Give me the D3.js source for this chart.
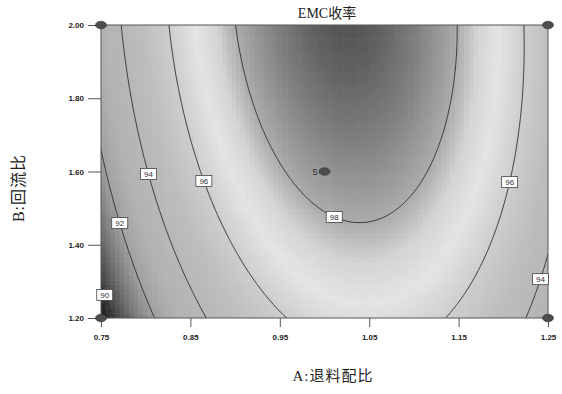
<!DOCTYPE html>
<html>
<head>
<meta charset="utf-8">
<script src="https://cdn.jsdelivr.net/npm/d3@7"></script>
<style>
  html, body { margin: 0; padding: 0; background: #fff; }
  svg { display: block; }
  .tick-label { font-family: Arial, "Liberation Sans", sans-serif; font-size: 8px; font-weight: bold; fill: #222; }
  .axis-title { font-family: "Liberation Serif", "Noto Sans CJK SC", serif; fill: #222; }
</style>
</head>
<body>
<svg id="chart" width="562" height="394"></svg>
<script>
// Factor ranges (actual units)
const factorA = [0.75, 1.25];   // A: 退料配比
const factorB = [1.20, 2.00];   // B: 回流比

// Axis tick values
const ticksA = [0.75, 0.85, 0.95, 1.05, 1.15, 1.25];
const ticksB = [1.20, 1.40, 1.60, 1.80, 2.00];

// Fitted quadratic model in coded units (a, b in [-1, 1]):
// Y = c0 + cA*a + cB*b + cAB*a*b + cAA*a^2 + cBB*b^2
const modelTerms = ["c0", "cA", "cB", "cAB", "cAA", "cBB"];
const modelCoefs = [98.42, 1.477, 1.375, -0.458, -5.20, -0.567];

// Contour levels and where each label sits (level, B value, branch)
const contourLevels = [90, 92, 94, 96, 98];
const labelLevels   = [90, 92, 94, 96, 98, 96, 94];
const labelB        = [1.263, 1.459, 1.593, 1.574, 1.476, 1.571, 1.306];
const labelBranch   = ["left", "left", "left", "left", "left", "right", "right"];

// Design points (A, B) and replicate count
const designA    = [0.75, 0.75, 1.25, 1.25, 1.00];
const designB    = [1.20, 2.00, 2.00, 1.20, 1.60];
const designReps = [1, 1, 1, 1, 5];

// Gray shading keyed to response value
const shadeValues = [89.3, 90, 91, 92, 93, 94, 95, 96, 96.9, 97.5, 98, 98.5, 99.0, 99.3];
const shadeGrays  = [20, 60, 115, 160, 178, 183, 190, 205, 228, 212, 172, 145, 112, 84];

const coef = Object.fromEntries(modelTerms.map((t, i) => [t, modelCoefs[i]]));
const codeA = A => (A - 1.0) / 0.25;
const codeB = B => (B - 1.6) / 0.4;
function response(A, B) {
  const a = codeA(A), b = codeB(B);
  return coef.c0 + coef.cA * a + coef.cB * b + coef.cAB * a * b + coef.cAA * a * a + coef.cBB * b * b;
}
// Solve response(A, B) = level for A at a given B
function solveA(level, B, branch) {
  const b = codeB(B);
  const qa = coef.cAA, qb = coef.cA + coef.cAB * b, qc = coef.c0 + coef.cB * b + coef.cBB * b * b - level;
  const disc = Math.sqrt(Math.max(0, qb * qb - 4 * qa * qc));
  const roots = [(-qb + disc) / (2 * qa), (-qb - disc) / (2 * qa)].sort((p, q) => p - q);
  const a = branch === "left" ? roots[0] : roots[1];
  return 1.0 + 0.25 * a;
}

const svg = d3.select("#chart");
const plot = { left: 101, right: 548, top: 25, bottom: 318 };
const x = d3.scaleLinear().domain(factorA).range([plot.left, plot.right]);
const y = d3.scaleLinear().domain(factorB).range([plot.bottom, plot.top]);
const gray = d3.scaleLinear().domain(shadeValues).range(shadeGrays).clamp(true);

const defs = svg.append("defs");
defs.append("clipPath").attr("id", "plotClip")
  .append("rect")
  .attr("x", plot.left).attr("y", plot.top)
  .attr("width", plot.right - plot.left).attr("height", plot.bottom - plot.top);
defs.append("filter").attr("id", "soft")
  .attr("x", "-5%").attr("y", "-5%").attr("width", "110%").attr("height", "110%")
  .append("feGaussianBlur").attr("stdDeviation", 0.7);

// Shaded response surface as a grid of cells
const nx = 96, ny = 62;
const cellA = (factorA[1] - factorA[0]) / nx;
const cellB = (factorB[1] - factorB[0]) / ny;
const cells = [];
for (let j = 0; j < ny; j++) {
  for (let i = 0; i < nx; i++) {
    const A0 = factorA[0] + i * cellA, B0 = factorB[0] + j * cellB;
    cells.push({ A0, B0, v: response(A0 + cellA / 2, B0 + cellB / 2) });
  }
}
const surface = svg.append("g").attr("clip-path", "url(#plotClip)")
  .append("g").attr("filter", "url(#soft)");
surface.selectAll("rect").data(cells).join("rect")
  .attr("x", d => x(d.A0))
  .attr("y", d => y(d.B0 + cellB))
  .attr("width", d => x(d.A0 + cellA) - x(d.A0) + 0.6)
  .attr("height", d => y(d.B0) - y(d.B0 + cellB) + 0.6)
  .attr("fill", d => { const g = Math.round(gray(d.v)); return `rgb(${g},${g},${g})`; });

// Contour lines computed on a slightly extended grid, clipped to the plot
const gn = 260, gm = 170;
const gA0 = factorA[0] - 0.02, gA1 = factorA[1] + 0.02;
const gB0 = factorB[0] - 0.03, gB1 = factorB[1] + 0.03;
const dA = (gA1 - gA0) / (gn - 1), dB = (gB1 - gB0) / (gm - 1);
const grid = new Array(gn * gm);
for (let j = 0; j < gm; j++) {
  for (let i = 0; i < gn; i++) {
    grid[i + j * gn] = response(gA0 + i * dA, gB1 - j * dB);
  }
}
const contours = d3.contours().size([gn, gm]).thresholds(contourLevels)(grid);
const toPixels = d3.geoTransform({
  point(px, py) { this.stream.point(x(gA0 + (px - 0.5) * dA), y(gB1 - (py - 0.5) * dB)); }
});
svg.append("g").attr("clip-path", "url(#plotClip)")
  .selectAll("path").data(contours).join("path")
  .attr("d", d3.geoPath(toPixels))
  .attr("fill", "none")
  .attr("stroke", "#2a2a2a")
  .attr("stroke-width", 0.9);

// Plot frame
svg.append("rect")
  .attr("x", plot.left).attr("y", plot.top)
  .attr("width", plot.right - plot.left).attr("height", plot.bottom - plot.top)
  .attr("fill", "none").attr("stroke", "#555").attr("stroke-width", 1);

// Contour labels
const labels = labelLevels.map((lv, i) => ({ lv, B: labelB[i], A: solveA(lv, labelB[i], labelBranch[i]) }));
const lab = svg.append("g").selectAll("g").data(labels).join("g")
  .attr("transform", d => `translate(${x(d.A)},${y(d.B)})`);
lab.append("rect")
  .attr("x", -8).attr("y", -5.5).attr("width", 16).attr("height", 11)
  .attr("fill", "#fff").attr("stroke", "#444").attr("stroke-width", 0.8);
lab.append("text")
  .attr("text-anchor", "middle").attr("dy", "0.35em")
  .style("font-family", "Arial, 'Liberation Sans', sans-serif")
  .style("font-size", "8px").style("fill", "#333")
  .text(d => d.lv);

// Axes
const axisB = svg.append("g").attr("transform", `translate(${plot.left},0)`)
  .call(d3.axisLeft(y).tickValues(ticksB).tickFormat(d3.format(".2f")).tickSize(13).tickPadding(4));
const axisA = svg.append("g").attr("transform", `translate(0,${plot.bottom})`)
  .call(d3.axisBottom(x).tickValues(ticksA).tickFormat(d3.format(".2f")).tickSize(9).tickPadding(7));
[axisA, axisB].forEach(ax => {
  ax.select(".domain").remove();
  ax.selectAll(".tick line").attr("stroke", "#555");
  ax.selectAll(".tick text").attr("class", "tick-label").attr("fill", null);
});

// Design points
const pts = designA.map((A, i) => ({ A, B: designB[i], n: designReps[i] }));
svg.append("g").selectAll("ellipse").data(pts).join("ellipse")
  .attr("cx", d => x(d.A)).attr("cy", d => y(d.B))
  .attr("rx", 5.5).attr("ry", 3.8)
  .attr("fill", "#4d4d4d").attr("stroke", "#333").attr("stroke-width", 0.6);
svg.append("g").selectAll("text").data(pts.filter(d => d.n > 1)).join("text")
  .attr("x", d => x(d.A) - 7).attr("y", d => y(d.B)).attr("dy", "0.35em")
  .attr("text-anchor", "end")
  .style("font-family", "Arial, 'Liberation Sans', sans-serif")
  .style("font-size", "9px").style("fill", "#333")
  .text(d => d.n);

// Titles
svg.append("text").attr("class", "axis-title")
  .attr("x", 327).attr("y", 18).attr("text-anchor", "middle")
  .style("font-size", "14px").text("EMC收率");
svg.append("text").attr("class", "axis-title")
  .attr("x", 333).attr("y", 381).attr("text-anchor", "middle")
  .style("font-size", "15px").style("letter-spacing", "1px").text("A:退料配比");
svg.append("text").attr("class", "axis-title")
  .attr("transform", "translate(24,188) rotate(-90)").attr("text-anchor", "middle")
  .style("font-size", "16px").style("letter-spacing", "1px").text("B:回流比");
</script>
</body>
</html>
